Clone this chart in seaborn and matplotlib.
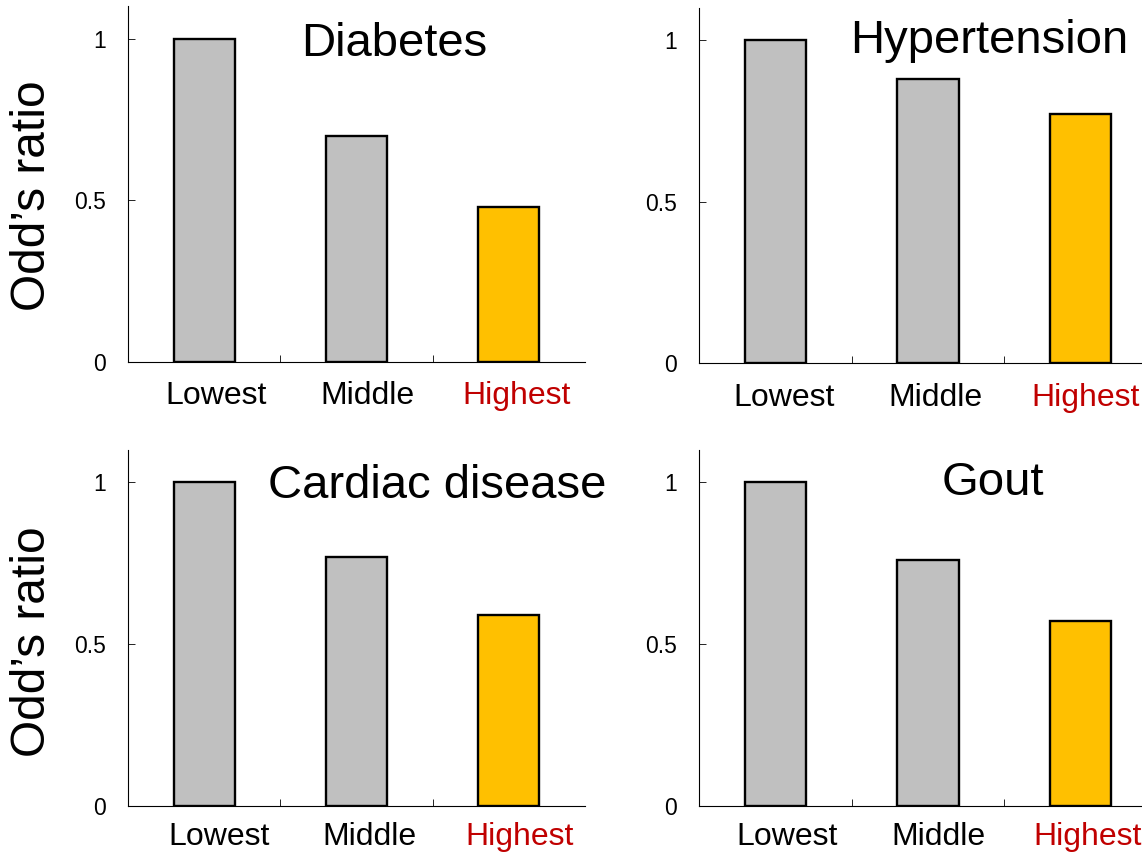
import matplotlib
matplotlib.use("Agg")
import matplotlib.pyplot as plt
import matplotlib.transforms as mtransforms
import seaborn as sns
import pandas as pd

# Tertile groups and odd's ratios for each condition
categories = ["Lowest", "Middle", "Highest"]
diabetes = [1.0, 0.70, 0.48]
hypertension = [1.0, 0.88, 0.77]
cardiac = [1.0, 0.77, 0.59]
gout = [1.0, 0.76, 0.57]

titles = ["Diabetes", "Hypertension", "Cardiac disease", "Gout"]
series = [diabetes, hypertension, cardiac, gout]
ytick_values = [0, 0.5, 1]
ytick_labels = ["0", "0.5", "1"]

GRAY = "#C0C0C0"
GOLD = "#FFC000"
RED = "#C00000"

sns.set_theme(style="white")
plt.rcParams["font.family"] = ["Liberation Sans", "DejaVu Sans"]
plt.rcParams["text.color"] = "black"
plt.rcParams["xtick.color"] = "black"
plt.rcParams["ytick.color"] = "black"
plt.rcParams["axes.labelcolor"] = "black"

W, H = 1142, 852
fig = plt.figure(figsize=(W / 100, H / 100), dpi=100)

# axes boxes in pixels: left, right, y of zero line, y of top
boxes = [
    (128, 585, 362.0, 6.2),
    (699, 1157, 363.3, 7.7),
    (128, 585, 805.7, 450.0),
    (699, 1157, 805.7, 450.0),
]
# title centres / baselines in pixels
title_pos = [(394, 55.7), (989, 53.3), (437, 498), (993, 495)]
# category labels sit a little to the right of their bars (pixels)
label_shift = [(12, 10.5, 8), (9, 7, 5), (15, 13, 11), (12, 10, 7)]
label_pad = [14, 14, 11.5, 11.5]

for i, (title, vals) in enumerate(zip(titles, series)):
    l, r, b, t = boxes[i]
    ax = fig.add_axes([l / W, 1 - b / H, (r - l) / W, (b - t) / H])
    df = pd.DataFrame({"group": categories, "odds": vals})
    sns.barplot(data=df, x="group", y="odds", hue="group",
                palette=[GRAY, GRAY, GOLD], legend=False, width=0.4,
                edgecolor="black", linewidth=1.7, saturation=1, ax=ax)
    ax.set_xlim(-0.5, 2.5)
    ax.set_ylim(0, 1.1)
    for side in ("top", "right"):
        ax.spines[side].set_visible(False)
    for side in ("left", "bottom"):
        ax.spines[side].set_color("black")
        ax.spines[side].set_linewidth(0.8)
    ax.set_yticks(ytick_values)
    ax.set_yticklabels(ytick_labels)
    ax.tick_params(axis="y", direction="in", length=5, width=0.6,
                   color="black", labelcolor="black", labelsize=16.5,
                   pad=16, left=True)
    ax.set_xticks(range(len(categories)))
    ax.set_xticklabels(categories)
    ax.set_xticks([0.5, 1.5], minor=True)
    ax.tick_params(axis="x", which="major", length=0, labelsize=23,
                   labelcolor="black", pad=label_pad[i])
    ax.tick_params(axis="x", which="minor", direction="in", length=5,
                   width=0.6, color="black", bottom=True)
    for lab, dx in zip(ax.get_xticklabels(), label_shift[i]):
        lab.set_transform(lab.get_transform() +
                          mtransforms.ScaledTranslation(dx / 100, 0,
                                                        fig.dpi_scale_trans))
    ax.get_xticklabels()[2].set_color(RED)
    ax.set_xlabel("")
    ax.set_ylabel("")

    cx, by = title_pos[i]
    fig.text(cx / W, 1 - by / H, title, ha="center", va="baseline",
             fontsize=34, color="black")

# shared y-axis labels for each row
fig.text(33 / W, 1 - 196 / H, "Odd\u2019s ratio", rotation=90,
         ha="center", va="center", fontsize=34.5, color="black")
fig.text(33 / W, 1 - 642 / H, "Odd\u2019s ratio", rotation=90,
         ha="center", va="center", fontsize=34.5, color="black")

fig.savefig("out.png", dpi=100)
